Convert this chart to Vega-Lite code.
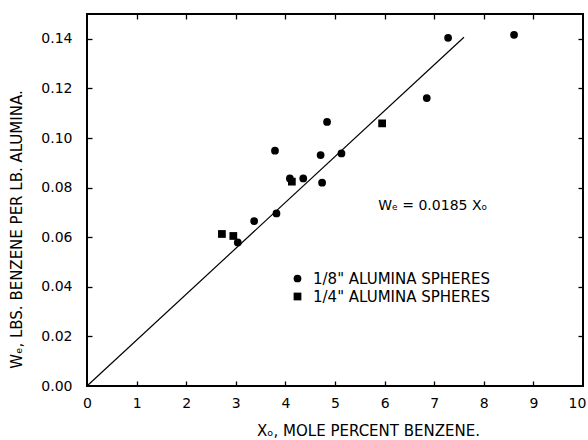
{
  "$schema": "https://vega.github.io/schema/vega-lite/v6.json",
  "width": 496,
  "height": 372,
  "autosize": "none",
  "padding": {"left": 87, "top": 14, "right": 5, "bottom": 54},
  "config": {
    "font": "DejaVu Sans",
    "view": {"stroke": "black", "strokeWidth": 2},
    "axis": {"labelFont": "DejaVu Sans", "titleFont": "DejaVu Sans", "labelColor": "black", "titleColor": "black", "grid": false, "domain": false, "tickColor": "black", "tickWidth": 1.3, "labelFontSize": 14, "titleFontSize": 15, "titleFontWeight": "normal", "labelFlush": false, "labelOverlap": false}
  },
  "datasets": {
    "pts": [
      {"x": 7.28, "w": 0.1404, "size": "1/8\" ALUMINA SPHERES"},
      {"x": 8.61, "w": 0.1416, "size": "1/8\" ALUMINA SPHERES"},
      {"x": 6.85, "w": 0.1161, "size": "1/8\" ALUMINA SPHERES"},
      {"x": 5.95, "w": 0.1059, "size": "1/4\" ALUMINA SPHERES"},
      {"x": 4.84, "w": 0.1065, "size": "1/8\" ALUMINA SPHERES"},
      {"x": 4.71, "w": 0.0931, "size": "1/8\" ALUMINA SPHERES"},
      {"x": 5.13, "w": 0.0938, "size": "1/8\" ALUMINA SPHERES"},
      {"x": 4.09, "w": 0.0837, "size": "1/8\" ALUMINA SPHERES"},
      {"x": 4.13, "w": 0.0824, "size": "1/4\" ALUMINA SPHERES"},
      {"x": 4.36, "w": 0.0837, "size": "1/8\" ALUMINA SPHERES"},
      {"x": 4.74, "w": 0.0820, "size": "1/8\" ALUMINA SPHERES"},
      {"x": 3.82, "w": 0.0696, "size": "1/8\" ALUMINA SPHERES"},
      {"x": 3.79, "w": 0.0949, "size": "1/8\" ALUMINA SPHERES"},
      {"x": 3.37, "w": 0.0665, "size": "1/8\" ALUMINA SPHERES"},
      {"x": 2.72, "w": 0.0613, "size": "1/4\" ALUMINA SPHERES"},
      {"x": 2.95, "w": 0.0605, "size": "1/4\" ALUMINA SPHERES"},
      {"x": 3.04, "w": 0.0579, "size": "1/8\" ALUMINA SPHERES"}
    ],
    "fit": [
      {"x": 0, "w": 0},
      {"x": 7.6, "w": 0.1406}
    ],
    "eq": [
      {"label": "Wₑ = 0.0185 Xₒ", "x": 5.87, "w": 0.0726}
    ]
  },
  "layer": [
    {
      "data": {"name": "fit"},
      "mark": {"type": "line", "color": "black", "strokeWidth": 1.2},
      "encoding": {
        "x": {"field": "x", "type": "quantitative", "scale": {"domain": [0, 10], "nice": false},
          "axis": {"orient": "bottom", "values": [0,1,2,3,4,5,6,7,8,9,10], "ticks": false, "tickSize": 0, "labelPadding": 10, "labelOffset": {"condition": {"test": "datum.value == 10", "value": -6}, "value": 0}, "title": "Xₒ, MOLE PERCENT BENZENE.", "titleX": 281, "titleY": 44, "titleBaseline": "middle", "titleAnchor": null}},
        "y": {"field": "w", "type": "quantitative", "scale": {"domain": [0, 0.15], "nice": false},
          "axis": {"orient": "left", "values": [0,0.02,0.04,0.06,0.08,0.1,0.12,0.14], "format": ".2f", "ticks": false, "tickSize": 0, "labelPadding": 15, "title": "Wₑ, LBS. BENZENE PER LB. ALUMINA.", "titleX": -71, "titleY": 215, "titleBaseline": "middle", "titleAngle": 270}}
      }
    },
    {
      "data": {"name": "pts"},
      "mark": {"type": "point", "filled": true, "opacity": 1, "color": "black", "size": 60},
      "encoding": {
        "x": {"field": "x", "type": "quantitative", "scale": {"domain": [0, 10], "nice": false},
          "axis": {"orient": "top", "values": [1,2,3,4,5,6,7,8,9], "offset": -5, "tickSize": 5, "labels": false, "title": null}},
        "y": {"field": "w", "type": "quantitative", "scale": {"domain": [0, 0.15], "nice": false},
          "axis": {"orient": "right", "values": [0.02,0.04,0.06,0.08,0.1,0.12,0.14], "offset": -5, "tickSize": 5, "labels": false, "title": null}},
        "shape": {"field": "size", "type": "nominal",
          "scale": {"domain": ["1/8\" ALUMINA SPHERES", "1/4\" ALUMINA SPHERES"], "range": ["circle", "square"]},
          "legend": {"title": null, "orient": "none", "legendX": 203, "legendY": 257, "padding": 0, "rowPadding": 2, "labelFontSize": 15, "labelLimit": 400, "labelColor": "black", "labelFont": "DejaVu Sans", "symbolFillColor": "black", "symbolStrokeColor": "black", "symbolSize": 60, "labelOffset": 8}}
      }
    },
    {
      "data": {"name": "eq"},
      "mark": {"type": "text", "align": "left", "baseline": "middle", "fontSize": 14, "font": "DejaVu Sans", "color": "black"},
      "encoding": {
        "x": {"field": "x", "type": "quantitative",
          "axis": {"orient": "bottom", "values": [1,2,3,4,5,6,7,8,9], "offset": -5, "tickSize": 5, "labels": false, "title": null}},
        "y": {"field": "w", "type": "quantitative",
          "axis": {"orient": "left", "values": [0.02,0.04,0.06,0.08,0.1,0.12,0.14], "offset": -5, "tickSize": 5, "labels": false, "title": null}},
        "text": {"field": "label"}
      }
    }
  ],
  "resolve": {"axis": {"x": "independent", "y": "independent"}}
}
